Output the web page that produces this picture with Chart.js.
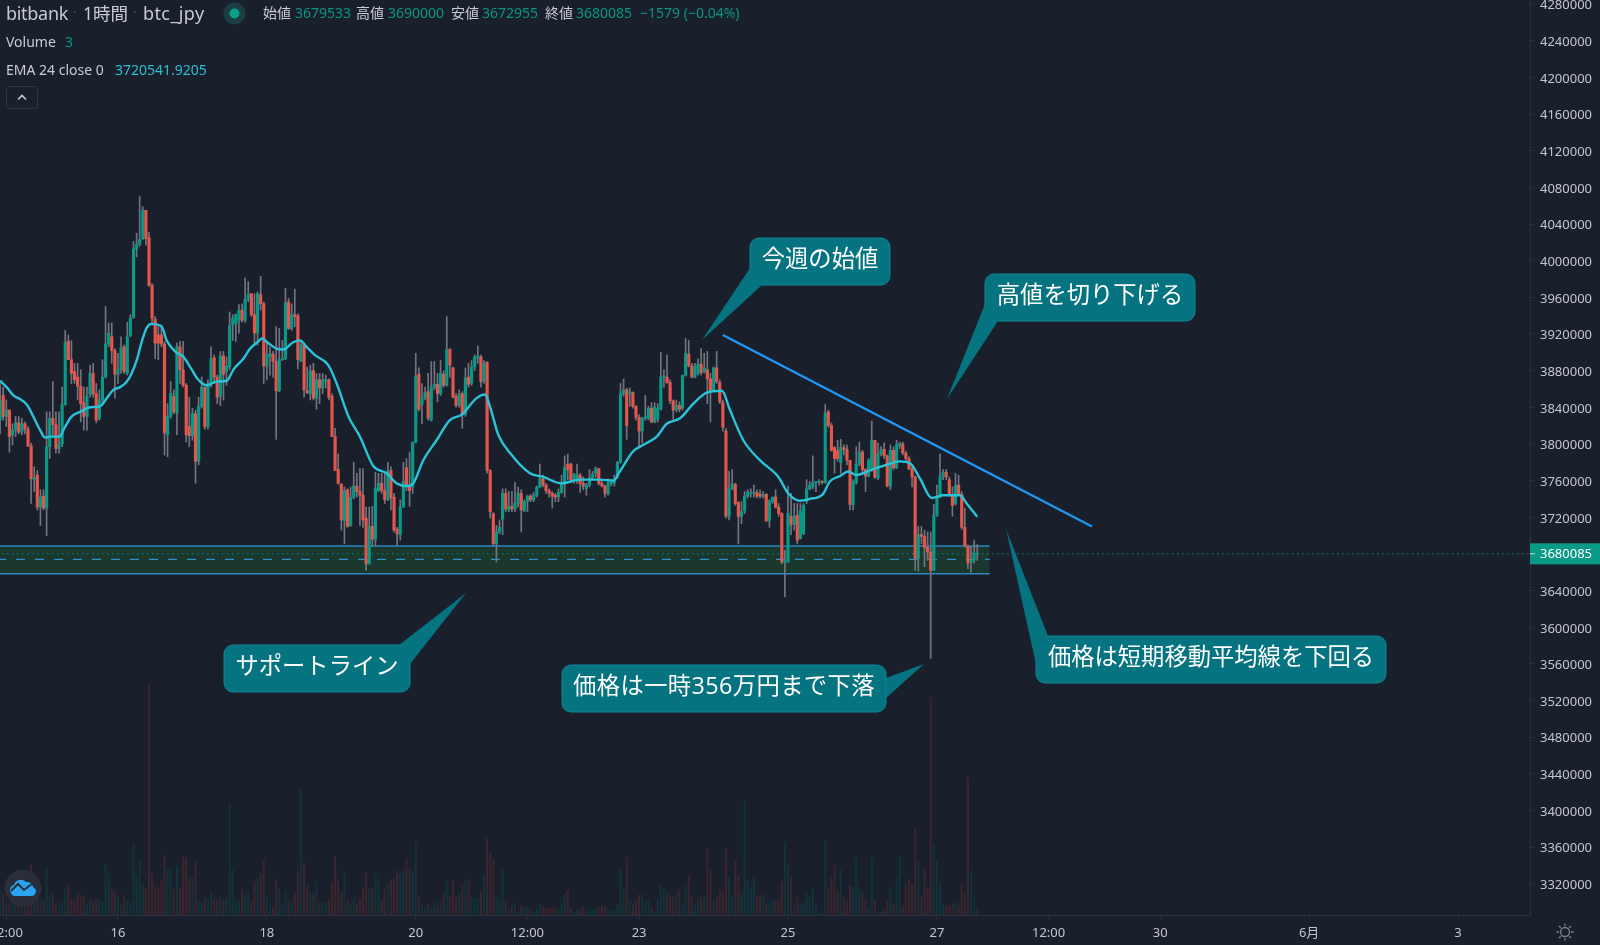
<!DOCTYPE html>
<html lang="ja">
<head>
<meta charset="utf-8">
<title>btc_jpy 1時間</title>
<script src="https://cdn.jsdelivr.net/npm/chart.js@4/dist/chart.umd.min.js"></script>
<style>
  html, body { margin: 0; padding: 0; background: #1a1f2c; }
  #wrap { position: relative; width: 1600px; height: 945px; overflow: hidden; font-family: "Noto Sans", "Noto Sans CJK JP", sans-serif; }
  canvas { position: absolute; left: 0; top: 0; }
  .row { position: absolute; white-space: nowrap; color: #c8cbd3; line-height: 20px; }
  .row span { position: absolute; top: 0; }
  .dot { color: #5c606b; }
  .teal { color: #0a9482; }
  .cyan { color: #2bbdd2; }
  #collapse { position: absolute; left: 6px; top: 86px; width: 32px; height: 23px; border: 1px solid #2e3442; border-radius: 3px; box-sizing: border-box; }
  #logo, #gear { position: absolute; }
</style>
</head>
<body>
<div id="wrap">
  <canvas id="chart" width="1600" height="945"></canvas>

  <div class="row" style="left:0;top:3px;font-size:18px;">
    <span style="left:6px;letter-spacing:-0.3px;">bitbank</span>
    <span class="dot" style="left:73px;font-size:12px;">·</span>
    <span style="left:83px;font-size:17.5px;">1時間</span>
    <span class="dot" style="left:133px;font-size:12px;">·</span>
    <span style="left:143px;letter-spacing:0.4px;">btc_jpy</span>
  </div>
  <div class="row" style="left:0;top:3px;font-size:14px;">
    <span style="left:263px;">始値</span><span class="teal" style="left:295px;">3679533</span>
    <span style="left:356px;">高値</span><span class="teal" style="left:388px;">3690000</span>
    <span style="left:451px;">安値</span><span class="teal" style="left:482px;">3672955</span>
    <span style="left:545px;">終値</span><span class="teal" style="left:576px;">3680085</span>
    <span class="teal" style="left:640px;">−1579 (−0.04%)</span>
  </div>
  <div class="row" style="left:0;top:32px;font-size:14px;">
    <span style="left:6px;">Volume</span><span class="teal" style="left:65px;">3</span>
  </div>
  <div class="row" style="left:0;top:60px;font-size:14px;">
    <span style="left:6px;">EMA 24 close 0</span><span class="cyan" style="left:115px;">3720541.9205</span>
  </div>

  <svg style="position:absolute;left:223px;top:2px;" width="23" height="23">
    <circle cx="11.5" cy="11.5" r="11" fill="#1d3d44"/>
    <circle cx="11.5" cy="11.5" r="5" fill="#0aa08c"/>
  </svg>
  <div id="collapse">
    <svg width="30" height="21"><path d="M11 12.5 L15 8.5 L19 12.5" fill="none" stroke="#c8cbd3" stroke-width="1.6"/></svg>
  </div>
  <svg id="logo" style="left:4px;top:869px;" width="38" height="38">
    <circle cx="19" cy="19" r="18.5" fill="#2a2e3b"/>
    <path d="M7 24 a5 5 0 0 1 3 -8 a7 7 0 0 1 12 -3 a6 6 0 0 1 7 5 a4.5 4.5 0 0 1 2 7 q-1 2 -3 2 h-18 q-2 0 -3 -3 z" fill="#2aa3f0"/>
    <path d="M7 22 L14 15 L20 21 L29 14" fill="none" stroke="#2a2e3b" stroke-width="2"/>
  </svg>
  <svg id="gear" style="left:1555px;top:922px;" width="20" height="20">
    <circle cx="10" cy="10" r="4.5" fill="none" stroke="#7c808b" stroke-width="1.3"/>
    <path d="M10 1.5V4M10 16v2.5M1.5 10H4M16 10h2.5M4 4l1.8 1.8M14.2 14.2L16 16M4 16l1.8-1.8M14.2 5.8L16 4" stroke="#7c808b" stroke-width="1.3"/>
  </svg>
</div>

<script>
// prices in thousand yen, one entry per hourly candle
const opens = [
  3826,3853,3830,3837,3810,3815,3823,3813,3822,3816,
  3798,3761,3766,3731,3743,3730,3797,3828,3821,3795,
  3800,3843,3912,3892,3879,3873,3863,3845,3830,3854,
  3877,3855,3828,3848,3873,3909,3917,3902,3876,3881,
  3906,3877,3918,3938,4013,4018,4024,4055,4025,3973,
  3936,3919,3919,3909,3810,3830,3852,3834,3906,3881,
  3864,3819,3809,3833,3781,3841,3862,3819,3866,3894,
  3873,3852,3896,3879,3884,3930,3931,3935,3946,3935,
  3958,3964,3941,3921,3963,3953,3885,3895,3898,3890,
  3858,3892,3893,3955,3926,3941,3940,3890,3908,3858,
  3855,3880,3850,3870,3861,3869,3870,3852,3808,3772,
  3756,3716,3750,3711,3742,3754,3748,3744,3719,3669,
  3710,3696,3749,3757,3749,3739,3771,3742,3707,3701,
  3731,3774,3753,3753,3802,3876,3843,3850,3857,3826,
  3862,3865,3855,3876,3864,3903,3883,3852,3842,3855,
  3832,3873,3866,3884,3894,3895,3868,3889,3771,3724,
  3691,3704,3718,3746,3728,3732,3729,3735,3746,3727,
  3737,3743,3739,3744,3753,3762,3755,3749,3746,3744,
  3742,3747,3757,3778,3778,3761,3762,3766,3757,3751,
  3755,3763,3768,3773,3757,3754,3746,3757,3757,3764,
  3780,3855,3859,3855,3856,3841,3829,3814,3828,3828,
  3839,3824,3827,3838,3873,3873,3867,3847,3837,3842,
  3839,3875,3898,3885,3873,3877,3887,3879,3881,3871,
  3859,3883,3867,3845,3814,3721,3751,3756,3736,3721,
  3727,3743,3746,3746,3747,3745,3743,3745,3716,3737,
  3742,3731,3724,3671,3671,3721,3712,3722,3697,3702,
  3737,3751,3753,3758,3758,3759,3758,3835,3820,3796,
  3793,3780,3796,3794,3782,3734,3758,3778,3791,3772,
  3765,3772,3804,3763,3789,3794,3787,3754,3793,3774,
  3798,3800,3790,3784,3773,3764,3675,3701,3699,3687,
  3682,3662,3722,3742,3764,3769,3761,3744,3735,3755,
  3745,3709,3688,3671,3673,3679.533
];
const closes = [
  3848,3830,3837,3808,3815,3823,3813,3822,3816,3798,
  3762,3763,3731,3742,3730,3797,3828,3821,3795,3800,
  3843,3911,3892,3877,3870,3863,3844,3830,3852,3877,
  3855,3826,3848,3873,3909,3921,3902,3876,3881,3905,
  3879,3917,3937,4013,4018,4023,4055,4024,3973,3937,
  3910,3910,3909,3812,3830,3855,3835,3906,3881,3864,
  3810,3809,3833,3781,3841,3862,3819,3866,3893,3873,
  3851,3896,3876,3885,3929,3937,3941,3946,3935,3958,
  3963,3941,3921,3964,3953,3885,3898,3898,3890,3858,
  3892,3893,3954,3926,3941,3939,3892,3908,3859,3856,
  3880,3850,3870,3861,3870,3870,3851,3808,3771,3757,
  3717,3749,3710,3742,3754,3748,3744,3717,3669,3710,
  3696,3751,3757,3749,3739,3771,3741,3706,3702,3731,
  3759,3753,3749,3802,3874,3838,3850,3856,3828,3862,
  3865,3855,3877,3864,3903,3886,3851,3842,3854,3832,
  3872,3865,3884,3895,3896,3868,3888,3771,3726,3691,
  3704,3709,3746,3729,3732,3729,3735,3746,3728,3737,
  3743,3739,3744,3753,3762,3755,3749,3746,3743,3742,
  3747,3757,3774,3772,3761,3767,3766,3757,3754,3755,
  3763,3767,3773,3757,3754,3746,3758,3759,3762,3780,
  3855,3859,3820,3857,3841,3829,3814,3828,3830,3839,
  3824,3840,3839,3873,3874,3867,3847,3837,3842,3838,
  3875,3899,3885,3873,3885,3887,3878,3883,3871,3859,
  3883,3868,3846,3818,3721,3751,3756,3735,3721,3726,
  3743,3747,3747,3747,3743,3743,3745,3716,3738,3742,
  3731,3724,3671,3673,3724,3712,3721,3695,3727,3733,
  3751,3755,3758,3759,3759,3758,3834,3820,3793,3784,
  3784,3796,3794,3782,3734,3759,3778,3791,3772,3765,
  3782,3804,3764,3789,3794,3787,3754,3793,3774,3799,
  3800,3790,3784,3773,3764,3675,3701,3699,3687,3682,
  3662,3722,3742,3764,3769,3764,3745,3733,3755,3746,
  3709,3689,3670,3673,3681,3680.085
];
const highs = [
  3866,3862,3848,3837,3822,3830,3830,3828,3824,3819,
  3801,3775,3771,3750,3750,3835,3835,3868,3835,3835,
  3862,3924,3919,3913,3888,3888,3881,3862,3862,3886,
  3888,3866,3859,3892,3950,3932,3932,3904,3899,3917,
  3908,3933,3941,4021,4030,4070,4059,4055,4031,3975,
  3939,3928,3930,3912,3844,3868,3859,3910,3912,3912,
  3866,3851,3839,3837,3851,3873,3862,3870,3906,3897,
  3875,3901,3901,3895,3944,3941,3942,3952,3953,3981,
  3977,3964,3964,3966,3983,3955,3910,3906,3901,3928,
  3926,3913,3970,3959,3953,3969,3942,3913,3910,3884,
  3886,3888,3877,3877,3877,3875,3871,3855,3817,3789,
  3757,3753,3751,3753,3780,3768,3773,3773,3731,3731,
  3732,3769,3768,3768,3768,3780,3775,3746,3709,3739,
  3780,3784,3791,3802,3899,3883,3866,3862,3877,3890,
  3890,3877,3891,3880,3939,3904,3884,3855,3859,3857,
  3883,3888,3891,3897,3907,3897,3891,3890,3772,3725,
  3711,3717,3751,3751,3748,3748,3758,3753,3750,3739,
  3744,3745,3747,3754,3778,3766,3757,3751,3748,3746,
  3751,3766,3787,3789,3779,3768,3778,3768,3764,3757,
  3772,3770,3775,3773,3761,3755,3762,3761,3766,3781,
  3866,3871,3861,3861,3857,3842,3832,3829,3853,3841,
  3845,3845,3844,3900,3881,3897,3870,3848,3848,3846,
  3875,3915,3913,3888,3888,3893,3904,3899,3901,3877,
  3884,3901,3870,3848,3817,3770,3772,3757,3737,3737,
  3748,3750,3751,3755,3750,3750,3748,3746,3739,3742,
  3750,3735,3725,3684,3754,3746,3735,3735,3735,3735,
  3761,3759,3787,3759,3761,3760,3843,3837,3823,3797,
  3804,3805,3799,3799,3782,3761,3797,3802,3793,3773,
  3784,3825,3804,3801,3797,3801,3788,3799,3797,3804,
  3802,3802,3792,3786,3775,3765,3710,3710,3706,3704,
  3704,3734,3755,3789,3772,3772,3764,3753,3768,3766,
  3748,3730,3690,3688,3695,3690
];
const lows = [
  3811,3826,3819,3791,3799,3808,3811,3810,3811,3797,
  3735,3748,3728,3711,3728,3700,3784,3808,3790,3790,
  3797,3842,3892,3866,3866,3848,3824,3815,3815,3851,
  3851,3823,3826,3844,3872,3906,3888,3850,3866,3877,
  3877,3875,3917,3937,4004,4016,4023,4017,3972,3930,
  3893,3892,3906,3788,3786,3828,3833,3810,3866,3862,
  3802,3797,3804,3757,3777,3839,3816,3816,3862,3866,
  3844,3842,3848,3864,3881,3913,3912,3921,3933,3933,
  3955,3939,3910,3908,3946,3866,3870,3875,3873,3805,
  3857,3891,3892,3925,3924,3928,3882,3890,3851,3855,
  3848,3848,3838,3844,3855,3861,3848,3808,3771,3756,
  3706,3691,3709,3710,3740,3742,3711,3709,3662,3669,
  3688,3689,3748,3746,3735,3738,3728,3704,3689,3695,
  3731,3749,3732,3746,3801,3836,3822,3848,3826,3825,
  3859,3846,3853,3862,3863,3873,3850,3840,3840,3817,
  3830,3862,3864,3880,3888,3862,3866,3768,3719,3689,
  3671,3702,3701,3726,3726,3726,3726,3731,3704,3726,
  3726,3737,3737,3742,3752,3753,3746,3742,3730,3737,
  3737,3746,3742,3761,3759,3757,3757,3747,3750,3744,
  3753,3761,3764,3755,3753,3742,3744,3754,3754,3762,
  3779,3852,3805,3841,3839,3826,3797,3801,3826,3826,
  3823,3823,3824,3837,3862,3866,3844,3827,3835,3835,
  3837,3874,3884,3872,3872,3875,3875,3877,3844,3824,
  3857,3866,3844,3814,3719,3717,3750,3733,3691,3713,
  3724,3741,3742,3742,3741,3741,3741,3715,3709,3735,
  3730,3721,3669,3633,3671,3701,3706,3691,3696,3701,
  3735,3750,3751,3748,3755,3756,3757,3818,3792,3768,
  3781,3768,3788,3777,3728,3728,3756,3776,3769,3748,
  3764,3770,3762,3761,3787,3784,3753,3750,3772,3773,
  3795,3788,3782,3772,3753,3662,3661,3691,3666,3673,
  3566,3662,3721,3741,3761,3761,3743,3721,3733,3744,
  3707,3687,3664,3660,3670,3672.955
];
// volume in the pane's own units
const volumes = [
  75,63,43,35,35,35,30,35,45,55,
  153,75,55,50,42,145,57,65,35,27,
  39,78,92,47,47,63,60,57,35,48,
  39,50,47,41,155,123,77,67,57,30,
  60,43,37,212,120,163,95,80,693,122,
  85,81,105,180,137,137,77,145,80,175,
  170,112,112,158,43,37,50,45,67,50,
  43,55,45,50,332,135,43,39,77,67,
  65,39,100,110,123,165,57,39,24,107,
  79,30,73,43,39,67,132,377,158,87,
  67,65,100,38,35,37,43,98,177,108,
  70,131,47,37,50,33,45,80,125,80,
  82,123,107,43,77,97,107,110,133,125,
  135,168,137,130,219,55,30,17,32,21,
  38,27,39,65,100,55,105,51,69,95,
  108,100,53,48,51,70,120,229,187,165,
  55,49,137,43,13,27,37,10,27,21,
  22,17,10,17,30,27,22,21,21,21,
  18,35,63,75,22,7,15,17,23,11,
  17,14,22,23,27,24,14,14,14,32,
  137,79,173,43,30,43,60,63,42,43,
  22,9,42,88,79,69,60,55,65,76,
  37,87,120,53,29,49,57,54,201,137,
  43,53,75,73,201,113,55,165,117,63,
  342,105,85,113,55,59,60,35,37,47,
  43,45,99,219,150,112,29,53,37,35,
  67,57,79,27,5,5,225,81,111,150,
  73,135,53,42,89,83,173,85,67,43,
  23,173,45,10,10,17,43,79,35,110,
  177,27,87,107,91,259,159,53,140,83,
  655,211,163,99,32,27,27,35,35,28,
  89,63,415,133,57,18
];

// EMA read at the bends of the line
const emaHours = [
  0,2.1,4.3,6.4,8.6,10.7,12.9,14.5,16.1,19.3,20.4,21.5,23.1,25.8,29,32.2,34.4,36.5,38.7,40.8,
  42.4,44.1,45.7,47.3,48.9,52.1,53.7,56.4,59.1,61.8,63.9,66.6,69.8,73.1,75.2,78.4,80.6,83.3,84.4,86.5,
  89.1,91.3,94.5,96.7,98.8,101.5,105.8,108.5,112.3,116,120.3,124.6,127.8,131.1,133.2,136.4,140.7,145,148.8,153.6,
  156.3,158,160.6,164.4,170.8,175.1,181,187,193.4,197.7,199.8,204.1,207.4,211.7,214.9,219.2,223.5,227.8,232.7,235.3,
  239.6,245,250.9,254.1,257.9,261,265.2,267.5,270.8,273.4,276,281,284.7,290,293.3,296.6,300.3,304,309.4,311.6,315
];
const emaValues = [
  3869,3862,3853,3849,3843,3830,3815,3807,3808,3808,3815,3822,3830,3835,3840,3841,3850,3859,3862,3868,
  3877,3892,3912,3927,3931,3928,3913,3901,3895,3881,3870,3864,3868,3869,3881,3893,3904,3912,3915,3910,
  3904,3903,3911,3913,3906,3897,3886,3866,3830,3808,3776,3768,3757,3754,3757,3782,3804,3826,3832,3850,
  3854,3840,3810,3790,3768,3764,3757,3761,3761,3760,3770,3792,3799,3808,3822,3828,3844,3856,3858,3837,
  3804,3782,3764,3746,3738,3740,3745,3759,3765,3770,3766,3772,3776,3781,3779,3762,3741,3744,3744,3735,3720.542
];

const trendHours = [233, 352];
const trendValues = [3918.9, 3709.9];
const bandHours = [-1, 319];
const bandTop = 3688.6;
const bandMid = 3674.1;
const bandBottom = 3658.4;
const lastClose = 3680.085;

const priceTicks = [
  4280,4240,4200,4160,4120,4080,4040,4000,3960,3920,3880,3840,3800,3760,3720,3680,3640,3600,3560,3520,3480,3440,3400,3360,3320
];
const hourTicks = [2, 38, 86, 134, 170, 206, 254, 302, 338, 374, 422, 470];
const hourLabels = ['12:00', '16', '18', '20', '12:00', '23', '25', '27', '12:00', '30', '6月', '3'];

const UP = '#089a86';
const DOWN = '#e4574c';
const isUp = opens.map((o, i) => closes[i] >= o);
const yen = v => v * 1000;
const flat = (hours, v) => hours.map(h => ({ x: h, y: yen(v) }));

const callouts = [
  { text: '今週の始値', box: [750, 238, 140, 47], tail: [[750, 268], [702, 340], [762, 285]] },
  { text: '高値を切り下げる', box: [985, 274, 210, 47], tail: [[985, 304], [947, 399], [998, 321]] },
  { text: 'サポートライン', box: [224, 645, 186, 47], tail: [[399, 645], [466, 593], [410, 664]] },
  { text: '価格は一時356万円まで下落', box: [562, 665, 324, 47], tail: [[886, 678], [924, 664], [886, 698]], spacing: '0.4px' },
  { text: '価格は短期移動平均線を下回る', box: [1036, 636, 350, 47], tail: [[1048, 636], [1006, 529], [1036, 664]] },
];

const overlayPlugin = {
  id: 'overlay',
  afterDraw(chart) {
    const ctx = chart.ctx;
    const y = chart.scales.y.getPixelForValue(yen(lastClose));
    ctx.save();
    // last price tag on the axis
    ctx.fillStyle = '#089a86';
    ctx.fillRect(1530, y - 10.5, 70, 21);
    ctx.fillStyle = '#ffffff';
    ctx.font = '13px "Noto Sans", "Noto Sans CJK JP", sans-serif';
    ctx.textBaseline = 'middle';
    ctx.fillText(String(Math.round(yen(lastClose))), 1540, y);
    ctx.fillStyle = '#d8dbe2';
    ctx.fillRect(1530, y - 0.5, 5, 1);

    callouts.forEach(c => {
      const [bx, by, bw, bh] = c.box;
      ctx.fillStyle = '#067380';
      ctx.strokeStyle = '#0d8896';
      ctx.lineWidth = 1;
      ctx.beginPath();
      ctx.roundRect(bx, by, bw, bh, 9);
      ctx.fill();
      ctx.stroke();
      ctx.beginPath();
      c.tail.forEach((p, i) => i ? ctx.lineTo(p[0], p[1]) : ctx.moveTo(p[0], p[1]));
      ctx.closePath();
      ctx.fill();
      ctx.fillStyle = '#ffffff';
      ctx.font = '23.3px "Open Sans", "Noto Sans CJK JP", sans-serif';
      ctx.letterSpacing = c.spacing || '0px';
      ctx.textAlign = 'center';
      ctx.textBaseline = 'middle';
      ctx.fillText(c.text, bx + bw / 2, by + bh / 2 - 1);
      ctx.textAlign = 'start';
    });
    ctx.restore();
  },
};

new Chart(document.getElementById('chart').getContext('2d'), {
  type: 'bar',
  data: {
    datasets: [
      {
        type: 'line', order: 21, yAxisID: 'y', data: flat(bandHours, bandTop),
        borderColor: '#2a86bd', borderWidth: 1.5, pointRadius: 0,
        fill: '+1', backgroundColor: 'rgba(27,72,48,0.62)',
      },
      {
        type: 'line', order: 20, yAxisID: 'y', data: flat(bandHours, bandBottom),
        borderColor: '#2a86bd', borderWidth: 1.5, pointRadius: 0, fill: false,
      },
      {
        type: 'bar', order: 19, yAxisID: 'vol', grouped: false, barThickness: 1.5,
        data: volumes.map((v, i) => ({ x: i, y: v })),
        backgroundColor: isUp.map(u => u ? '#133237' : '#38252d'),
      },
      {
        type: 'line', order: 18, yAxisID: 'y', data: flat(bandHours, bandMid),
        borderColor: '#2b8fd0', borderWidth: 1.3, borderDash: [9, 10], pointRadius: 0, fill: false,
      },
      {
        type: 'bar', order: 5, yAxisID: 'y', grouped: false, barThickness: 1,
        data: highs.map((h, i) => ({ x: i, y: [yen(lows[i]), yen(h)] })),
        backgroundColor: '#72757f',
      },
      {
        type: 'bar', order: 4, yAxisID: 'y', grouped: false, barThickness: 2.5, minBarLength: 1,
        data: opens.map((o, i) => ({ x: i, y: [yen(o), yen(closes[i])] })),
        backgroundColor: isUp.map(u => u ? UP : DOWN),
      },
      {
        type: 'line', order: 6, yAxisID: 'y', data: flat([-1, 494], lastClose),
        borderColor: '#0b8a78', borderWidth: 1, borderDash: [1.5, 3.5], pointRadius: 0, fill: false,
      },
      {
        type: 'line', order: 3, yAxisID: 'y',
        data: emaHours.map((h, i) => ({ x: h, y: yen(emaValues[i]) })),
        borderColor: '#2bc3d8', borderWidth: 2.4, pointRadius: 0, fill: false, cubicInterpolationMode: 'monotone',
      },
      {
        type: 'line', order: 2, yAxisID: 'y',
        data: trendHours.map((h, i) => ({ x: h, y: yen(trendValues[i]) })),
        borderColor: '#2196f3', borderWidth: 2.4, pointRadius: 0, fill: false,
      },
    ],
  },
  options: {
    responsive: false,
    animation: false,
    events: [],
    layout: { padding: 0 },
    plugins: { legend: { display: false }, tooltip: { enabled: false } },
    scales: {
      x: {
        type: 'linear',
        offset: false,
        min: -0.03,
        max: 493.2,
        afterBuildTicks: axis => { axis.ticks = hourTicks.map(v => ({ value: v })); },
        afterFit: axis => { axis.height = 30; axis.paddingLeft = 0; axis.paddingRight = 0; },
        grid: { offset: false, drawOnChartArea: false, drawTicks: true, tickLength: 4, color: '#2c3140' },
        border: { color: '#2c3140' },
        ticks: {
          autoSkip: false, maxRotation: 0, padding: 6, color: '#c3c6cf',
          font: { family: '"Noto Sans", "Noto Sans CJK JP", sans-serif', size: 13 },
          callback: v => hourLabels[hourTicks.indexOf(v)],
        },
      },
      y: {
        position: 'right',
        min: 3285900,
        max: 4284500,
        afterBuildTicks: axis => { axis.ticks = priceTicks.map(v => ({ value: yen(v) })); },
        afterFit: axis => { axis.width = 70; axis.paddingTop = 0; axis.paddingBottom = 0; },
        grid: { drawOnChartArea: false, drawTicks: true, tickLength: 5, color: '#2c3140' },
        border: { color: '#2c3140' },
        ticks: {
          autoSkip: false, padding: 5, color: '#c3c6cf',
          // blank first line nudges the label down to sit on its tick like the reference
          font: { family: '"Noto Sans", sans-serif', size: 13, lineHeight: 0.25 },
          callback: v => ['', String(v)],
        },
      },
      vol: { display: false, min: 0, max: 2745 },
    },
  },
  plugins: [overlayPlugin],
});
</script>
</body>
</html>
